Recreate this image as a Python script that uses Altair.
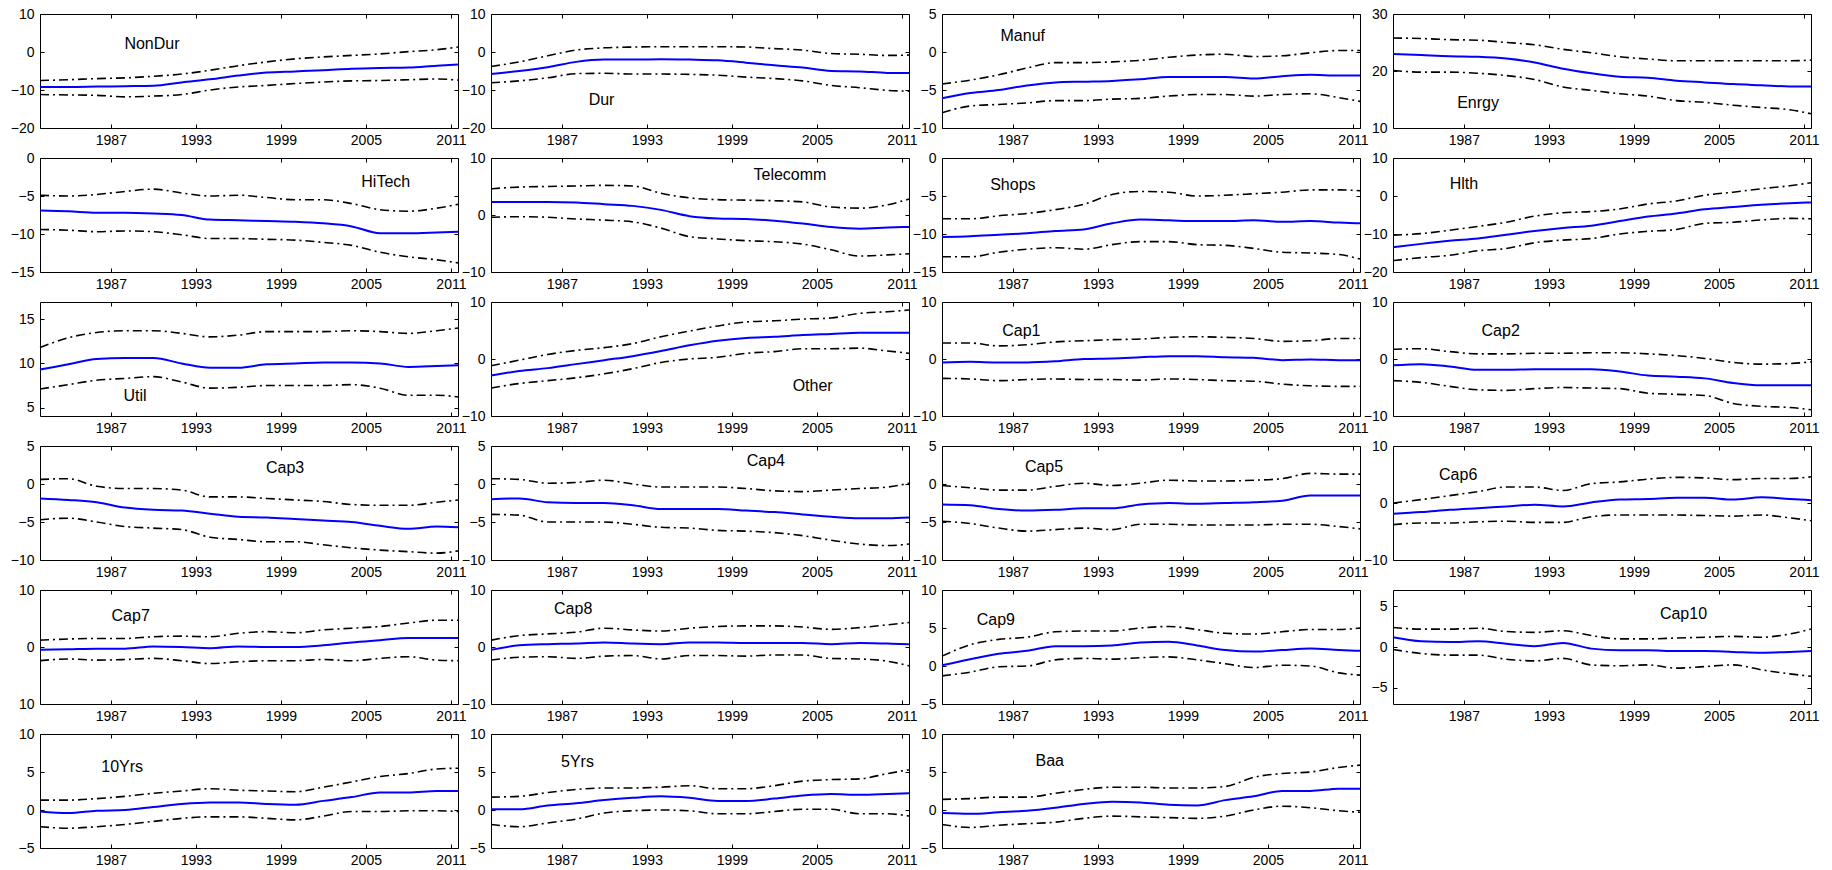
import altair as alt
import pandas as pd

# sample dates (years) shared by every series
years = [1982, 1984, 1986, 1988, 1990, 1992, 1994, 1996, 1998, 2000,
         2002, 2004, 2006, 2008, 2010, 2011.5]
x_ticks = [1987, 1993, 1999, 2005, 2011]

# estimate, upper band, lower band for each factor
nondur_est = [-9.2, -9.2, -9.1, -9.0, -8.9, -8.0, -7.2, -6.2, -5.4, -5.1, -4.8, -4.4, -4.2, -4.1, -3.6, -3.3]
nondur_hi = [-7.5, -7.3, -7.0, -6.8, -6.4, -5.8, -4.8, -3.6, -2.6, -1.8, -1.3, -0.9, -0.5, 0.1, 0.6, 1.3]
nondur_lo = [-11.2, -11.3, -11.4, -11.8, -11.6, -11.2, -10.0, -9.2, -8.8, -8.3, -7.9, -7.6, -7.5, -7.3, -7.1, -7.4]

dur_est = [-5.8, -5.0, -4.0, -2.6, -2.0, -2.0, -1.9, -2.0, -2.2, -2.8, -3.5, -4.1, -5.0, -5.1, -5.5, -5.5]
dur_hi = [-3.8, -2.6, -1.0, 0.5, 1.1, 1.3, 1.4, 1.4, 1.4, 1.3, 0.9, 0.5, -0.4, -0.6, -0.9, -0.8]
dur_lo = [-8.1, -7.6, -6.8, -5.7, -5.6, -5.8, -5.8, -5.9, -6.1, -6.6, -7.0, -7.6, -8.8, -9.4, -10.1, -10.3]

manuf_est = [-6.1, -5.4, -5.0, -4.4, -4.0, -3.9, -3.8, -3.6, -3.3, -3.3, -3.3, -3.5, -3.2, -3.0, -3.1, -3.1]
manuf_hi = [-4.2, -3.7, -3.0, -2.1, -1.4, -1.4, -1.3, -1.1, -0.7, -0.4, -0.3, -0.6, -0.5, -0.1, 0.2, 0.2]
manuf_lo = [-8.0, -7.1, -6.9, -6.7, -6.4, -6.4, -6.2, -6.1, -5.8, -5.6, -5.6, -5.8, -5.6, -5.5, -6.0, -6.5]

enrgy_est = [23.0, 22.8, 22.6, 22.5, 22.2, 21.5, 20.4, 19.6, 19.0, 18.8, 18.3, 18.0, 17.7, 17.5, 17.3, 17.3]
enrgy_hi = [25.8, 25.7, 25.5, 25.4, 25.0, 24.6, 23.8, 23.2, 22.5, 22.1, 21.8, 21.8, 21.8, 21.8, 21.8, 21.9]
enrgy_lo = [20.1, 19.8, 19.8, 19.6, 19.2, 18.5, 17.2, 16.6, 16.0, 15.6, 14.8, 14.5, 14.0, 13.6, 13.2, 12.5]

hitech_est = [-6.9, -7.0, -7.2, -7.2, -7.3, -7.5, -8.1, -8.2, -8.3, -8.4, -8.6, -9.0, -9.9, -9.9, -9.8, -9.7]
hitech_hi = [-4.9, -5.0, -4.8, -4.4, -4.1, -4.6, -5.0, -4.9, -5.2, -5.5, -5.5, -6.0, -6.8, -7.0, -6.6, -6.1]
hitech_lo = [-9.4, -9.5, -9.7, -9.6, -9.7, -10.1, -10.6, -10.6, -10.7, -10.8, -11.1, -11.5, -12.4, -13.0, -13.4, -13.8]

telecomm_est = [2.3, 2.3, 2.3, 2.2, 1.9, 1.6, 0.9, -0.2, -0.6, -0.7, -1.0, -1.5, -2.1, -2.4, -2.2, -2.1]
telecomm_hi = [4.6, 4.9, 5.0, 5.1, 5.2, 5.1, 3.8, 3.0, 2.7, 2.6, 2.5, 2.3, 1.4, 1.2, 1.8, 2.8]
telecomm_lo = [-0.4, -0.3, -0.4, -0.7, -0.9, -1.2, -2.3, -3.8, -4.2, -4.5, -4.7, -5.1, -6.1, -7.2, -7.0, -6.8]

shops_est = [-10.4, -10.3, -10.1, -9.9, -9.6, -9.4, -8.6, -8.1, -8.2, -8.3, -8.3, -8.2, -8.4, -8.3, -8.5, -8.6]
shops_hi = [-8.0, -8.0, -7.6, -7.3, -6.8, -6.1, -4.8, -4.4, -4.5, -5.0, -4.9, -4.7, -4.5, -4.2, -4.2, -4.3]
shops_lo = [-13.0, -13.0, -12.4, -12.0, -11.8, -12.0, -11.4, -11.0, -11.0, -11.4, -11.5, -11.9, -12.4, -12.5, -12.7, -13.3]

hlth_est = [-13.5, -12.6, -11.8, -11.2, -10.2, -9.2, -8.4, -7.8, -6.6, -5.4, -4.6, -3.5, -2.9, -2.3, -1.9, -1.7]
hlth_hi = [-10.3, -9.9, -9.0, -8.0, -6.9, -5.3, -4.4, -4.1, -3.4, -2.1, -1.3, 0.2, 1.0, 1.9, 2.7, 3.5]
hlth_lo = [-17.0, -16.2, -15.6, -14.4, -13.8, -12.3, -11.6, -11.2, -10.0, -9.3, -8.8, -7.2, -6.9, -6.3, -5.9, -6.0]

util_est = [9.3, 9.9, 10.5, 10.6, 10.6, 10.0, 9.5, 9.5, 9.9, 10.0, 10.1, 10.1, 10.0, 9.6, 9.7, 9.8]
util_hi = [11.8, 12.9, 13.5, 13.7, 13.7, 13.4, 13.0, 13.2, 13.6, 13.6, 13.6, 13.7, 13.6, 13.4, 13.7, 14.0]
util_lo = [7.1, 7.6, 8.1, 8.3, 8.5, 7.9, 7.2, 7.3, 7.5, 7.5, 7.5, 7.6, 7.2, 6.4, 6.4, 6.2]

other_est = [-2.9, -2.1, -1.6, -0.9, -0.2, 0.5, 1.4, 2.4, 3.2, 3.7, 3.9, 4.2, 4.4, 4.6, 4.6, 4.6]
other_hi = [-1.2, -0.2, 0.8, 1.5, 2.0, 2.7, 3.9, 4.9, 5.8, 6.5, 6.7, 7.0, 7.2, 8.0, 8.3, 8.6]
other_lo = [-5.1, -4.3, -3.8, -3.3, -2.6, -1.7, -0.6, 0.0, 0.3, 1.0, 1.3, 1.8, 1.8, 1.9, 1.4, 1.0]

cap1_est = [-0.6, -0.5, -0.6, -0.6, -0.4, 0.0, 0.1, 0.3, 0.5, 0.5, 0.3, 0.2, -0.2, -0.1, -0.2, -0.2]
cap1_hi = [2.8, 2.8, 2.3, 2.5, 3.0, 3.2, 3.4, 3.5, 3.8, 3.9, 3.8, 3.6, 3.1, 3.2, 3.6, 3.6]
cap1_lo = [-3.4, -3.5, -3.8, -3.6, -3.5, -3.6, -3.6, -3.7, -3.5, -3.6, -3.8, -3.9, -4.4, -4.7, -4.8, -4.8]

cap2_est = [-1.1, -0.9, -1.3, -1.9, -1.9, -1.8, -1.8, -1.8, -2.2, -2.9, -3.1, -3.4, -4.2, -4.6, -4.6, -4.6]
cap2_hi = [1.7, 1.8, 1.3, 0.9, 0.9, 1.0, 1.0, 1.1, 1.1, 0.9, 0.6, 0.1, -0.6, -0.9, -0.8, -0.5]
cap2_lo = [-3.8, -4.1, -4.8, -5.4, -5.5, -5.2, -5.0, -5.1, -5.2, -6.0, -6.2, -6.4, -7.8, -8.3, -8.5, -8.9]

cap3_est = [-1.9, -2.1, -2.4, -3.1, -3.4, -3.5, -3.9, -4.3, -4.4, -4.6, -4.8, -5.0, -5.5, -5.9, -5.6, -5.7]
cap3_hi = [0.6, 0.7, -0.3, -0.6, -0.6, -0.8, -1.7, -1.7, -1.9, -2.1, -2.3, -2.7, -2.8, -2.8, -2.4, -2.1]
cap3_lo = [-4.7, -4.5, -5.0, -5.6, -5.8, -6.0, -7.0, -7.3, -7.6, -7.6, -8.0, -8.4, -8.7, -8.9, -9.1, -8.8]

cap4_est = [-2.0, -1.9, -2.4, -2.5, -2.5, -2.8, -3.3, -3.3, -3.3, -3.5, -3.7, -4.0, -4.3, -4.5, -4.5, -4.4]
cap4_hi = [0.7, 0.6, 0.1, 0.2, 0.5, 0.0, -0.4, -0.4, -0.4, -0.6, -0.9, -1.0, -0.8, -0.6, -0.4, 0.1]
cap4_lo = [-4.0, -4.1, -5.0, -5.0, -5.0, -5.3, -5.7, -5.8, -6.1, -6.2, -6.4, -6.8, -7.4, -7.9, -8.1, -7.9]

cap5_est = [-2.7, -2.8, -3.3, -3.5, -3.4, -3.2, -3.2, -2.7, -2.5, -2.6, -2.5, -2.4, -2.2, -1.5, -1.5, -1.5]
cap5_hi = [-0.2, -0.5, -0.8, -0.8, -0.3, 0.1, -0.2, 0.1, 0.5, 0.4, 0.4, 0.5, 0.7, 1.4, 1.3, 1.3]
cap5_lo = [-4.9, -5.2, -5.8, -6.2, -6.0, -5.8, -6.0, -5.3, -5.3, -5.4, -5.4, -5.4, -5.3, -5.3, -5.6, -5.9]

cap6_est = [-1.9, -1.6, -1.2, -0.9, -0.6, -0.3, -0.6, 0.1, 0.6, 0.7, 0.9, 0.9, 0.6, 1.0, 0.7, 0.5]
cap6_hi = [0.0, 0.6, 1.3, 2.0, 2.8, 2.8, 2.2, 3.4, 3.7, 4.2, 4.5, 4.4, 4.1, 4.3, 4.3, 4.6]
cap6_lo = [-3.8, -3.5, -3.5, -3.3, -3.2, -3.4, -3.4, -2.4, -2.1, -2.1, -2.1, -2.2, -2.3, -2.1, -2.6, -3.1]

cap7_est = [-0.5, -0.4, -0.3, -0.3, 0.1, 0.0, -0.2, 0.1, 0.0, 0.0, 0.3, 0.8, 1.2, 1.6, 1.6, 1.6]
cap7_hi = [1.2, 1.4, 1.5, 1.5, 1.8, 1.9, 1.8, 2.4, 2.7, 2.5, 3.0, 3.3, 3.6, 4.2, 4.7, 4.7]
cap7_lo = [-2.4, -2.1, -2.3, -2.2, -2.0, -2.4, -2.9, -2.6, -2.4, -2.4, -2.2, -2.4, -2.0, -1.7, -2.3, -2.4]

cap8_est = [-0.5, 0.3, 0.5, 0.6, 0.8, 0.6, 0.5, 0.8, 0.8, 0.7, 0.7, 0.7, 0.5, 0.7, 0.6, 0.5]
cap8_hi = [1.2, 2.0, 2.3, 2.6, 3.3, 3.0, 2.8, 3.3, 3.6, 3.7, 3.7, 3.5, 3.1, 3.4, 3.9, 4.3]
cap8_lo = [-2.3, -1.8, -1.7, -2.0, -1.6, -1.5, -2.1, -1.5, -1.5, -1.6, -1.4, -1.4, -2.0, -2.1, -2.5, -3.3]

cap9_est = [0.1, 0.9, 1.6, 2.0, 2.6, 2.6, 2.7, 3.1, 3.2, 2.7, 2.1, 1.9, 2.1, 2.3, 2.1, 2.0]
cap9_hi = [1.3, 2.8, 3.5, 3.8, 4.5, 4.6, 4.6, 5.0, 5.2, 4.8, 4.3, 4.2, 4.5, 4.8, 4.8, 5.0]
cap9_lo = [-1.3, -0.8, -0.1, 0.0, 0.8, 1.0, 0.9, 1.1, 1.2, 0.8, 0.3, -0.2, 0.1, 0.0, -0.9, -1.2]

cap10_est = [1.2, 0.7, 0.6, 0.7, 0.4, 0.1, 0.5, -0.2, -0.4, -0.4, -0.5, -0.5, -0.6, -0.7, -0.6, -0.5]
cap10_hi = [2.4, 2.2, 2.2, 2.3, 1.9, 1.8, 2.0, 1.4, 1.0, 1.0, 1.1, 1.2, 1.3, 1.2, 1.6, 2.2]
cap10_lo = [-0.3, -0.8, -1.0, -1.0, -1.5, -1.7, -1.4, -2.2, -2.3, -2.2, -2.6, -2.4, -2.2, -2.8, -3.3, -3.6]

yrs10_est = [-0.2, -0.4, -0.1, 0.0, 0.4, 0.8, 1.0, 1.0, 0.8, 0.7, 1.2, 1.7, 2.3, 2.3, 2.5, 2.5]
yrs10_hi = [1.3, 1.3, 1.5, 1.8, 2.2, 2.5, 2.8, 2.6, 2.5, 2.4, 3.0, 3.7, 4.4, 4.8, 5.4, 5.5]
yrs10_lo = [-2.2, -2.4, -2.2, -1.9, -1.5, -1.1, -0.9, -0.9, -1.1, -1.3, -0.8, -0.2, -0.2, -0.1, -0.1, -0.2]

yrs5_est = [0.1, 0.1, 0.6, 0.9, 1.3, 1.6, 1.8, 1.6, 1.2, 1.2, 1.5, 1.9, 2.1, 2.0, 2.1, 2.2]
yrs5_hi = [1.7, 1.8, 2.3, 2.7, 2.9, 2.9, 3.0, 3.2, 2.8, 2.8, 3.2, 3.8, 4.0, 4.1, 4.8, 5.3]
yrs5_lo = [-1.9, -2.2, -1.7, -1.2, -0.4, -0.1, 0.0, -0.1, -0.5, -0.5, -0.2, 0.1, 0.1, -0.5, -0.5, -0.8]

baa_est = [-0.4, -0.5, -0.3, -0.1, 0.3, 0.8, 1.1, 1.0, 0.7, 0.6, 1.3, 1.8, 2.5, 2.5, 2.8, 2.8]
baa_hi = [1.4, 1.5, 1.7, 1.7, 2.2, 2.7, 3.0, 3.0, 2.9, 2.9, 3.1, 4.3, 4.8, 5.0, 5.6, 5.9]
baa_lo = [-1.9, -2.3, -2.0, -1.8, -1.6, -1.1, -0.8, -0.9, -1.0, -1.1, -0.8, 0.0, 0.5, 0.3, -0.1, -0.3]

# panel name, series, y-range, y ticks, name-tag anchor (year, value)
panels = [
    ("NonDur", nondur_est, nondur_hi, nondur_lo, [-20, 10], [-20, -10, 0, 10], (1989.9, 2.0)),
    ("Dur", dur_est, dur_hi, dur_lo, [-20, 10], [-20, -10, 0, 10], (1989.8, -12.5)),
    ("Manuf", manuf_est, manuf_hi, manuf_lo, [-10, 5], [-10, -5, 0, 5], (1987.7, 2.1)),
    ("Enrgy", enrgy_est, enrgy_hi, enrgy_lo, [10, 30], [10, 20, 30], (1988.0, 14.3)),
    ("HiTech", hitech_est, hitech_hi, hitech_lo, [-15, 0], [-15, -10, -5, 0], (2006.4, -3.2)),
    ("Telecomm", telecomm_est, telecomm_hi, telecomm_lo, [-10, 10], [-10, 0, 10], (2003.1, 7.0)),
    ("Shops", shops_est, shops_hi, shops_lo, [-15, 0], [-15, -10, -5, 0], (1987.0, -3.6)),
    ("Hlth", hlth_est, hlth_hi, hlth_lo, [-20, 10], [-20, -10, 0, 10], (1987.0, 3.1)),
    ("Util", util_est, util_hi, util_lo, [4.05, 16.95], [5, 10, 15], (1988.7, 6.3)),
    ("Other", other_est, other_hi, other_lo, [-10, 10], [-10, 0, 10], (2004.7, -4.8)),
    ("Cap1", cap1_est, cap1_hi, cap1_lo, [-10, 10], [-10, 0, 10], (1987.6, 5.0)),
    ("Cap2", cap2_est, cap2_hi, cap2_lo, [-10, 10], [-10, 0, 10], (1989.6, 5.0)),
    ("Cap3", cap3_est, cap3_hi, cap3_lo, [-10, 5], [-10, -5, 0, 5], (1999.3, 2.1)),
    ("Cap4", cap4_est, cap4_hi, cap4_lo, [-10, 5], [-10, -5, 0, 5], (2001.4, 3.0)),
    ("Cap5", cap5_est, cap5_hi, cap5_lo, [-10, 5], [-10, -5, 0, 5], (1989.2, 2.3)),
    ("Cap6", cap6_est, cap6_hi, cap6_lo, [-10, 10], [-10, 0, 10], (1986.6, 5.0)),
    ("Cap7", cap7_est, cap7_hi, cap7_lo, [-10, 10], [-10, 0, 10], (1988.4, 5.4)),
    ("Cap8", cap8_est, cap8_hi, cap8_lo, [-10, 10], [-10, 0, 10], (1987.8, 6.7)),
    ("Cap9", cap9_est, cap9_hi, cap9_lo, [-5, 10], [-5, 0, 5, 10], (1985.8, 6.0)),
    ("Cap10", cap10_est, cap10_hi, cap10_lo, [-7, 7], [-5, 0, 5], (2002.5, 4.0)),
    ("10Yrs", yrs10_est, yrs10_hi, yrs10_lo, [-5, 10], [-5, 0, 5, 10], (1987.8, 5.6)),
    ("5Yrs", yrs5_est, yrs5_hi, yrs5_lo, [-5, 10], [-5, 0, 5, 10], (1988.1, 6.3)),
    ("Baa", baa_est, baa_hi, baa_lo, [-5, 10], [-5, 0, 5, 10], (1989.6, 6.5)),
]

FONT = "Liberation Sans"
PANEL_W, PANEL_H = 418, 114
TICK = 4


def make_panel(name, est, hi, lo, ylim, yticks, tag):
    n = len(years)
    df = pd.DataFrame({
        "year": years * 3,
        "value": est + hi + lo,
        "band": ["est"] * n + ["upper"] * n + ["lower"] * n,
    })
    xs = alt.Scale(domain=[1982, 2011.5], nice=False, zero=False)
    ys = alt.Scale(domain=ylim, nice=False, zero=False)

    # the "10" without sign on the lowest Cap7 tick is kept as printed
    y_expr = "datum.value == -10 ? '10' : datum.label" if name == "Cap7" else "datum.label"

    # inward ticks: axis pulled into the box by the tick length
    x_axis = alt.Axis(values=x_ticks, format="d", tickSize=TICK, offset=-TICK,
                      domain=False, grid=False, labelPadding=5, labelFlush=False,
                      title=None)
    y_axis = alt.Axis(values=yticks, tickSize=TICK, offset=-TICK, domain=False,
                      grid=False, labelPadding=6, labelFlush=False,
                      labelExpr=y_expr, title=None)
    x_mirror = alt.Axis(values=x_ticks, orient="top", labels=False, tickSize=TICK,
                        offset=-TICK, domain=False, grid=False, title=None)
    y_mirror = alt.Axis(values=yticks, orient="right", labels=False, tickSize=TICK,
                        offset=-TICK, domain=False, grid=False, title=None)

    base = alt.Chart(df)
    bands = base.transform_filter(alt.datum.band != "est").mark_line(
        color="black", strokeWidth=1.6, strokeDash=[9, 4, 2, 4], interpolate="monotone"
    ).encode(
        x=alt.X("year:Q", scale=xs, axis=None),
        y=alt.Y("value:Q", scale=ys, axis=None),
        detail="band:N",
    )
    line = base.transform_filter(alt.datum.band == "est").mark_line(
        color="#0000ff", strokeWidth=2, interpolate="monotone"
    ).encode(
        x=alt.X("year:Q", scale=xs, axis=x_axis),
        y=alt.Y("value:Q", scale=ys, axis=y_axis),
    )
    tag_df = pd.DataFrame({"year": [tag[0]], "value": [tag[1]], "name": [name]})
    label = alt.Chart(tag_df).mark_text(
        font=FONT, fontSize=16, color="black", align="center", baseline="middle"
    ).encode(
        x=alt.X("year:Q", scale=xs, axis=x_mirror),
        y=alt.Y("value:Q", scale=ys, axis=y_mirror),
        text="name:N",
    )
    return alt.layer(bands, line, label).resolve_axis(
        x="independent", y="independent"
    ).properties(width=PANEL_W, height=PANEL_H)


charts = [make_panel(*p) for p in panels]

chart = alt.concat(
    *charts, columns=4, spacing={"row": 30, "column": 33}, bounds="flush"
).properties(
    padding={"left": 9, "top": 6, "right": 5, "bottom": 5},
    background="white",
).configure_view(
    stroke="black", strokeWidth=1
).configure_axis(
    labelFont=FONT, labelFontSize=14, labelColor="black",
    tickColor="black", tickWidth=1,
)

chart.save("out.html", embed_options={"renderer": "svg", "actions": False})
